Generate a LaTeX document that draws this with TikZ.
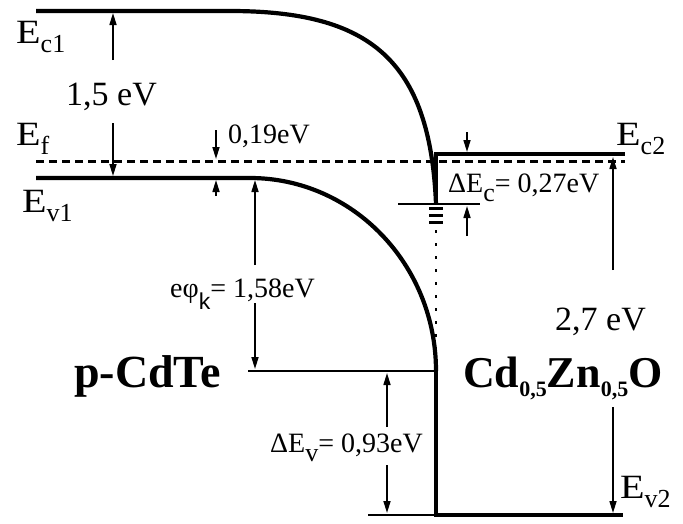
\documentclass[tikz,border=0pt]{standalone}
\usepackage{fontspec}
\usepackage{graphicx}
\setmainfont{Liberation Serif}
\newfontfamily\sanskfont{Liberation Sans}
\usetikzlibrary{arrows.meta}
\newcommand{\lowsub}[3]{\raisebox{-#1}{\fontsize{#2}{#2}\selectfont #3}}
\newcommand{\wideE}{\scalebox{1.18}[1]{E}}
\begin{document}
\begin{tikzpicture}[x=1pt,y=-1pt,
  band/.style={line width=4.2pt},
  thinline/.style={line width=1.6pt},
  arr/.style={line width=1.6pt,-{Triangle[length=12pt,width=7pt]}},
  lab/.style={anchor=base west,inner sep=0pt},
  big/.style={font=\fontsize{34}{34}\selectfont},
  small/.style={font=\fontsize{28}{28}\selectfont},
  bold/.style={font=\fontsize{44}{44}\selectfont\bfseries}]
\useasboundingbox (0,0) rectangle (683,523);
% coordinates
\coordinate (ec1L) at (36,11);
\coordinate (ec1B) at (230,11);
\coordinate (ec1E) at (436,204);
\coordinate (ev1L) at (36,178);
\coordinate (ev1B) at (250,178);
\coordinate (ev1E) at (436,371);
\coordinate (ec2C) at (436,154);
\coordinate (ec2R) at (625,154);
\coordinate (ev2C) at (436,515);
\coordinate (ev2R) at (623,515);
\coordinate (ev2T) at (368,515);
\coordinate (efL) at (36,161);
\coordinate (efR) at (625,161);
\coordinate (ev1T) at (248,371);
\coordinate (ecT1) at (398,204);
\coordinate (ecT2) at (480,204);
\coordinate (dotA) at (436,230);
\coordinate (dotB) at (436,362);
% bands
\draw[band] (ec1L) -- (ec1B) .. controls (370,11) and (430,60) .. (ec1E);
\draw[band] (ev1L) -- (ev1B) .. controls (352.7,178) and (436,264.5) .. (ev1E);
\draw[band,line join=miter] (ec1E) -- (ec2C) -- (ec2R);
\draw[band,line join=miter] (ev1E) -- (ev2C) -- (ev2R);
\draw[thinline] (ev2T) -- (ev2C);
\draw[line width=3pt,dash pattern=on 8pt off 5pt] (efL) -- (efR);
\draw[thinline] (ev1T) -- (ev1E);
\draw[thinline] (ecT1) -- (ecT2);
% interface states
\foreach \yy in {208,215,222}
  \draw[line width=3pt] (429,\yy) -- (443,\yy);
\draw[line width=2.6pt,dash pattern=on 2.6pt off 10.4pt] (dotA) -- (dotB);
% arrows
\coordinate (a1t) at (113,60);  \coordinate (a1e) at (113,13);
\coordinate (a1b) at (113,123); \coordinate (a1f) at (113,176);
\draw[arr] (a1t) -- (a1e);
\draw[arr] (a1b) -- (a1f);
\coordinate (a2t) at (216,130); \coordinate (a2e) at (216,159);
\coordinate (a2b) at (216,196); \coordinate (a2f) at (216,180);
\draw[arr] (a2t) -- (a2e);
\draw[arr] (a2b) -- (a2f);
\coordinate (a3t) at (255,265); \coordinate (a3e) at (255,180);
\coordinate (a3b) at (255,303); \coordinate (a3f) at (255,369);
\draw[arr] (a3t) -- (a3e);
\draw[arr] (a3b) -- (a3f);
\coordinate (a4t) at (467,132); \coordinate (a4e) at (467,152);
\coordinate (a4b) at (467,236); \coordinate (a4f) at (467,206);
\draw[arr] (a4t) -- (a4e);
\draw[arr] (a4b) -- (a4f);
\coordinate (a5t) at (613,270); \coordinate (a5e) at (613,157);
\coordinate (a5b) at (613,407); \coordinate (a5f) at (613,513);
\draw[arr] (a5t) -- (a5e);
\draw[arr] (a5b) -- (a5f);
\coordinate (a6t) at (387,427); \coordinate (a6e) at (387,373);
\coordinate (a6b) at (387,465); \coordinate (a6f) at (387,513);
\draw[arr] (a6t) -- (a6e);
\draw[arr] (a6b) -- (a6f);
% labels
\node (lEc1) [lab,big] at (16,43) {\wideE\lowsub{9pt}{26}{c1}};
\node (lEf)  [lab,big] at (16,145) {\wideE\lowsub{9pt}{26}{f}};
\node (lEv1) [lab,big] at (22,212) {\wideE\lowsub{9pt}{26}{v1}};
\node (lEc2) [lab,big] at (616,145) {\wideE\lowsub{9pt}{26}{c2}};
\node (lEv2) [lab,big] at (620,498) {\wideE\lowsub{9pt}{26}{v2}};
\node (l15) [lab,big] at (66,105) {1,5 eV};
\node (l019) [lab,small] at (228,143) {0,19eV};
\node (lphi) [lab,small] at (170,297) {eφ\lowsub{12pt}{23}{\sanskfont k}= 1,58eV};
\node (ldEc) [lab,small] at (448,192) {ΔE\lowsub{9pt}{26}{c}= 0,27eV};
\node (ldEv) [lab,small] at (270,452) {ΔE\lowsub{9pt}{26}{v}= 0,93eV};
\node (l27) [lab,big] at (555,330) {2,7 eV};
\node (lCdTe) [lab,font=\fontsize{46}{46}\selectfont\bfseries] at (74,387) {p-CdTe};
\node (lCZO) [lab,bold] at (463,387) {Cd\lowsub{9pt}{22}{0,5}Zn\lowsub{9pt}{22}{0,5}O};
\end{tikzpicture}
\end{document}
